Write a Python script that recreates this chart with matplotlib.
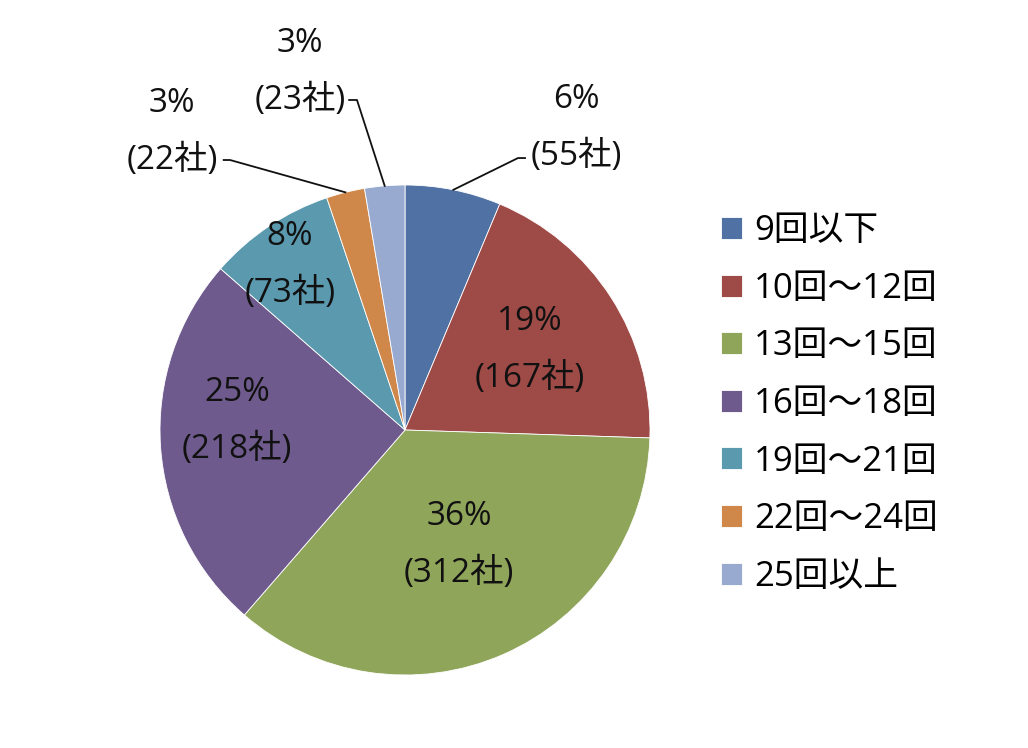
import numpy as np
import matplotlib
matplotlib.use('Agg')
import matplotlib.pyplot as plt

plt.rcParams['font.family'] = ['Open Sans', 'Noto Sans CJK JP', 'DejaVu Sans']

# データ
categories = ['9回以下', '10回～12回', '13回～15回', '16回～18回',
              '19回～21回', '22回～24回', '25回以上']
counts = [55, 167, 312, 218, 73, 22, 23]
colors = ['#4F71A3', '#9E4A47', '#8FA55A', '#6E5A8C',
          '#5B99AE', '#D0884A', '#98AAD0']

# ラベル位置 (pie座標, 半径=1)
label_xy = [(0.698, 1.233), (0.510, 0.327), (0.220, -0.469), (-0.686, 0.037),
            (-0.469, 0.673), (-0.951, 1.216), (-0.429, 1.461)]
# 引出線の折れ点 (外側ラベルのみ)
elbows = {0: [(0.461, 1.110), (0.490, 1.110)],
          5: [(-0.714, 1.102), (-0.740, 1.102)],
          6: [(-0.196, 1.347), (-0.228, 1.347)]}

W, H = 1028, 748
cx, cy, r = 405, 430, 245
fig = plt.figure(figsize=(W / 100, H / 100), dpi=100)
ax = fig.add_axes([(cx - r) / W, (H - cy - r) / H, 2 * r / W, 2 * r / H])

wedges, _ = ax.pie(counts, colors=colors, startangle=90, counterclock=False,
                   radius=1, wedgeprops=dict(edgecolor='white', linewidth=0.6))
ax.set_xlim(-1, 1)
ax.set_ylim(-1, 1)
ax.set_aspect('equal')
ax.axis('off')

total = sum(counts)
dy = 28.5 / r
fs = 24
for i, (w, n) in enumerate(zip(wedges, counts)):
    pct = int(round(n / total * 100))
    x, y = label_xy[i]
    ax.text(x, y + dy, f'{pct}%', ha='center', va='center', fontsize=fs,
            color='#111111', clip_on=False)
    ax.text(x, y - dy, f'({n}社)', ha='center', va='center', fontsize=fs,
            color='#111111', clip_on=False)
    if i in elbows:
        ang = np.deg2rad((w.theta1 + w.theta2) / 2)
        px, py = np.cos(ang), np.sin(ang)
        (ex, ey), (tx, ty) = elbows[i]
        ax.plot([px, ex, tx], [py, ey, ty], color='#111111', lw=1.3,
                clip_on=False)

fig.legend(wedges, categories, loc='center left',
           bbox_to_anchor=(707 / W, 1 - 404 / H), frameon=False,
           fontsize=25, handlelength=0.6, handleheight=0.6,
           handletextpad=0.35, labelspacing=0.68, borderaxespad=0)

fig.savefig('out.png', dpi=100)
